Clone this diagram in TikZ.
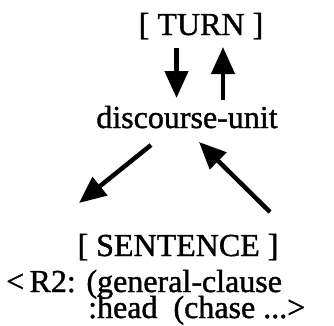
\documentclass[tikz,border=0pt]{standalone}
\usepackage{fontspec}
\setmainfont{Liberation Serif}[FakeBold=1.2]
\usetikzlibrary{arrows.meta}
\begin{document}
\begin{tikzpicture}[x=1pt,y=-1pt,
  lbl/.style={inner sep=0pt,font=\fontsize{32}{32}\selectfont},
  arr/.style={line width=4.5pt,-{Triangle[width=23pt,length=27pt]}}]
\useasboundingbox (0,0) rectangle (334,325);
\node[lbl,anchor=base] (turn) at (201,35) {[ TURN ]};
\node[lbl,anchor=base] (du) at (187,128) {discourse-unit};
\node[lbl,anchor=base] (sent) at (178,256) {[ SENTENCE ]};
\node[lbl,anchor=base west] (r1) at (6,292) {<\,R2: (general-clause};
\node[lbl,anchor=base west] (r2) at (88,318) {:head\ \ (chase ...>};
\coordinate (a1s) at (176.5,48);
\coordinate (a1e) at (176.5,98);
\coordinate (a2s) at (223,100);
\coordinate (a2e) at (223,47);
\coordinate (a3s) at (151,145);
\coordinate (a3e) at (79,203);
\coordinate (a4s) at (270,212);
\coordinate (a4e) at (199,142);
\draw[arr] (a1s) -- (a1e);
\draw[arr] (a2s) -- (a2e);
\draw[arr] (a3s) -- (a3e);
\draw[arr] (a4s) -- (a4e);
\end{tikzpicture}
\end{document}
